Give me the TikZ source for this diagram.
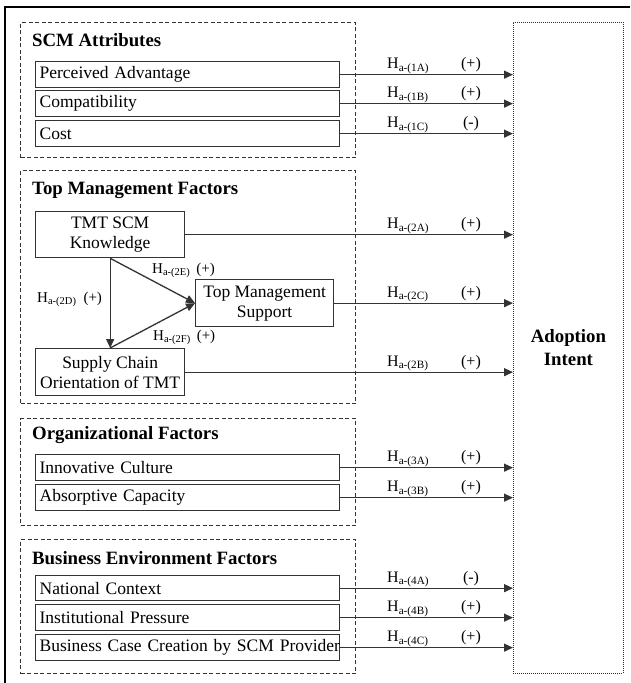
\documentclass[tikz,border=0pt]{standalone}
\usepackage{fontspec}
\setmainfont{Liberation Serif}
\usetikzlibrary{arrows.meta}
\begin{document}
\begin{tikzpicture}[x=1pt,y=-1pt,
  every node/.style={font=\fontsize{17.5}{20}\selectfont},
  grp/.style={draw=black!80, line width=1pt, dash pattern=on 4pt off 2.5pt, anchor=north west, inner sep=0pt},
  item/.style={draw=black!80, line width=1.3pt, anchor=north west, inner ysep=0pt, inner xsep=4pt, text width=296pt, minimum height=26pt, align=left},
  dbl/.style={draw=black!80, line width=1.3pt, anchor=north west, inner sep=0pt, align=center},
  ttl/.style={anchor=west, inner sep=0pt, font=\bfseries\fontsize{18.8}{22}\selectfont},
  hyp/.style={anchor=base west, inner sep=0pt, font=\fontsize{16}{18}\selectfont},
  sgn/.style={anchor=base, inner sep=0pt, font=\fontsize{16}{18}\selectfont},
  ihyp/.style={anchor=base west, inner sep=0pt, font=\fontsize{15}{17}\selectfont},
  conn/.style={draw=black!80, line width=1.3pt, -{Triangle[length=9pt,width=8pt]}},
  adopt/.style={draw=black!80, line width=0.9pt, dash pattern=on 1pt off 1pt, anchor=north west, inner sep=0pt, align=center, font=\bfseries\fontsize{18.8}{23}\selectfont},
]
\useasboundingbox (0,0) rectangle (630,683);
\fill[white] (0,0) rectangle (630,683);
% outer frame (top and left visible)
\draw[black, line width=2pt] (5,683) -- (5,7) -- (630,7);

% groups
\node[grp, minimum width=335pt, minimum height=135pt] (g1) at (20,22) {};
\node[grp, minimum width=335pt, minimum height=233pt] (g2) at (20,170) {};
\node[grp, minimum width=335pt, minimum height=107pt] (g3) at (20,418) {};
\node[grp, minimum width=335pt, minimum height=134pt] (g4) at (20,539) {};

% adoption
\node[adopt, minimum width=110pt, minimum height=651pt] (ai) at (513,22) {Adoption\\Intent};

% titles
\node[ttl] (t1) at (32,40) {SCM Attributes};
\node[ttl] (t2) at (32,190) {Top Management Factors};
\node[ttl] (t3) at (32,435) {Organizational Factors};
\node[ttl] (t4) at (32,558) {Business Environment Factors};

% group 1
\node[item] (pa) at (35,61) {Perceived Advantage};
\node[item] (co) at (35,90) {Compatibility};
\node[item] (cs) at (35,120) {Cost};

% group 2
\node[dbl, minimum width=149pt, minimum height=46pt] (tmt) at (35,211) {TMT SCM\\Knowledge};
\node[dbl, minimum width=138pt, minimum height=47pt] (tms) at (195,279) {Top Management\\Support};
\node[dbl, minimum width=149pt, minimum height=47pt] (sco) at (35,348) {Supply Chain\\Orientation of TMT};

% group 3
\node[item] (ic) at (35,454) {Innovative Culture};
\node[item] (ac) at (35,484) {Absorptive Capacity};

% group 4
\node[item, minimum height=25pt] (nc) at (35,575) {National Context};
\node[item] (ip) at (35,604) {Institutional Pressure};
\node[item] (bc) at (35,634) {\mbox{Business Case Creation by SCM Provider}};

% arrows to adoption intent
\foreach \n/\h/\s in {pa/1A/(+), co/1B/(+), cs/1C/(-), tmt/2A/(+), tms/2C/(+), sco/2B/(+), ic/3A/(+), ac/3B/(+), nc/4A/(-), ip/4B/(+), bc/4C/(+)} {
  \draw[conn] (\n.east) -- (\n.east -| ai.west);
  \node[hyp, yshift=6pt] at (\n.east -| 387,0) {H\textsubscript{a-(\h)}};
  \node[sgn, yshift=6pt] at (\n.east -| 471,0) {\s};
}

% internal arrows
\draw[conn] (tmt.south) -- (sco.north);
\draw[conn] (tmt.south) -- (tms.west);
\draw[conn] (sco.north) -- (tms.west);

\node[ihyp] (l2e) at (152,273) {H\textsubscript{a-(2E)}\hspace{6pt}(+)};
\node[ihyp] (l2d) at (37,302) {H\textsubscript{a-(2D)}\hspace{7pt}(+)};
\node[ihyp] (l2f) at (153,340) {H\textsubscript{a-(2F)}\hspace{6pt}(+)};
\end{tikzpicture}
\end{document}
